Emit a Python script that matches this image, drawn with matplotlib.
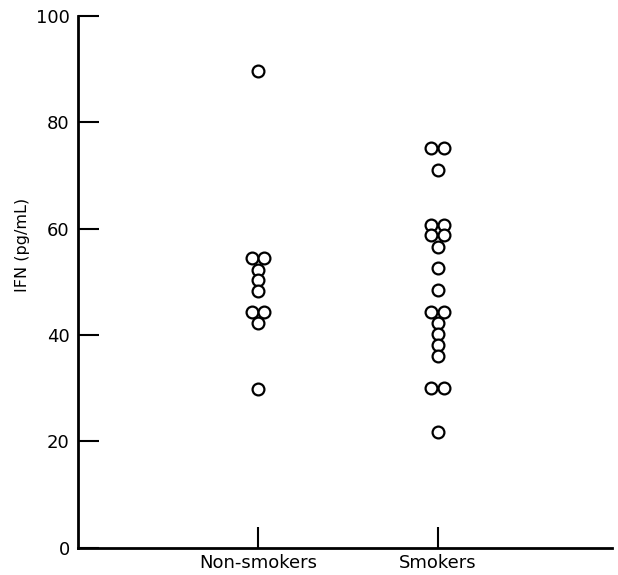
import numpy as np
import matplotlib
matplotlib.use("Agg")
import matplotlib.pyplot as plt

# IFN values (pg/mL)
groups = ["Non-smokers", "Smokers"]
non_smokers = [89.5, 54.5, 54.5, 52.3, 50.3, 48.2, 44.3, 44.3, 42.2, 29.8]
smokers = [75.1, 75.1, 71.0, 60.7, 60.7, 58.7, 58.7, 56.5, 52.6, 48.4,
           44.3, 44.3, 42.3, 40.2, 38.1, 36.0, 30.1, 30.1, 21.7]
yticks = [0, 20, 40, 60, 80, 100]


def spread(vals, center, step=0.034):
    # put equal values side by side like the hand-drawn dot plot
    xs = []
    vals = np.asarray(vals)
    for j, v in enumerate(vals):
        same = list(np.where(vals == v)[0])
        n = len(same)
        k = same.index(j)
        xs.append(center + (k - (n - 1) / 2) * 2 * step)
    return xs


fig = plt.figure(figsize=(6.18, 5.75), dpi=100)
ax = fig.add_axes([0.1262, 0.047, 0.864, 0.926])

for i, vals in enumerate([non_smokers, smokers]):
    ax.plot(spread(vals, i + 1), vals, 'o', ms=8.5, mfc='white', mec='black',
            mew=1.6, clip_on=False)

ax.set_xlim(0, 2.97)
ax.set_ylim(0, 100)
ax.set_xticks([1, 2])
ax.set_xticklabels(groups, fontsize=13)
ax.set_yticks(yticks)
ax.set_yticklabels([str(t) for t in yticks], fontsize=13)
ax.tick_params(direction='in', length=15, width=1.5, pad=6)
ax.tick_params(axis='x', pad=4)
ax.spines['top'].set_visible(False)
ax.spines['right'].set_visible(False)
ax.spines['left'].set_linewidth(2)
ax.spines['bottom'].set_linewidth(2)
ax.set_ylabel('IFN (pg/mL)', fontsize=11.5, labelpad=4, y=0.57)

fig.savefig('out.png', dpi=100)
